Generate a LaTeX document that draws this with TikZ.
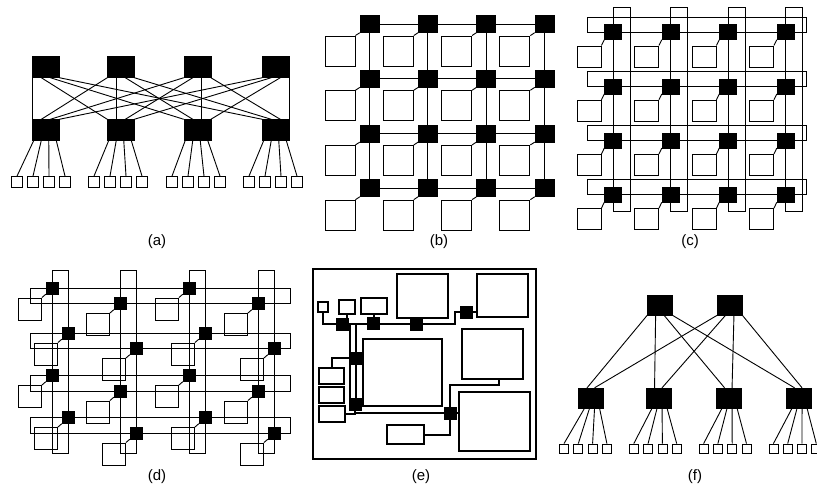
\documentclass[tikz,border=0pt]{standalone}
\usepackage{fontspec}
\setmainfont{Liberation Sans}
\usetikzlibrary{calc}

\tikzset{
  sw/.style   ={fill=black, draw=black, inner sep=0pt},
  core/.style ={draw=black, line width=0.9pt, inner sep=0pt},
  leaf/.style ={draw=black, fill=white, line width=0.8pt, inner sep=0pt, minimum size=11pt},
  wire/.style ={line width=0.9pt},
  bus/.style  ={line width=2pt},
  blk/.style  ={draw=black, line width=2pt, inner sep=0pt},
  tag/.style  ={font=\fontsize{15}{18}\selectfont}
}

\begin{document}
\begin{tikzpicture}[x=1pt, y=-1pt]
  \useasboundingbox (0,0) rectangle (817,493);

  % (a) two-level tree, full bipartite between levels
  \foreach \i/\xa in {1/46,2/121,3/197.5,4/276}{
    \node[sw, minimum width=27pt, minimum height=21pt] (ta\i) at (\xa,67) {};
    \node[sw, minimum width=27pt, minimum height=21pt] (ma\i) at (\xa,130) {};
  }
  \foreach \i in {1,...,4}
    \foreach \j in {1,...,4}
      \draw[wire] ($(ta\i.south west)+({9*(\j-1)},0)$) -- ($(ma\j.north west)+({9*(\i-1)},0)$);
  \foreach \g/\gx in {1/17,2/94,3/172,4/249}
    \foreach \k in {1,...,4}{
      \node[leaf] (la\g\k) at ({\gx+16*(\k-1)},182) {};
      \draw[wire] ($(ma\g.south west)+({1.35+7.56*(\k-1)},0)$) -- (la\g\k.north);
    }
  \node[tag] (capa) at (157,242) {(a)};

  % (b) mesh
  \foreach \r in {1,...,4}
    \foreach \c in {1,...,4}{
      \node[sw, minimum width=19pt, minimum height=17pt] (sb\r\c) at ({369.5+58.3*(\c-1)},{24+54.7*(\r-1)}) {};
      \node[core, minimum size=30pt] (cb\r\c) at ($(sb\r\c)+(-29.5,27)$) {};
      \draw[wire] (cb\r\c.north east) -- (sb\r\c.south west);
    }
  \foreach \n in {1,...,4}{
    \draw[wire] (sb\n1) -- (sb\n4);
    \draw[wire] (sb1\n) -- (sb4\n);
  }
  \node[tag] (capb) at (439,242) {(b)};

  % (c) torus
  \foreach \r in {1,...,4}
    \foreach \c in {1,...,4}{
      \node[sw, minimum width=17pt, minimum height=15pt] (sc\r\c) at ({613+57.5*(\c-1)},{32+54.2*(\r-1)}) {};
      \node[core, minimum width=24pt, minimum height=21pt] (cc\r\c) at ($(sc\r\c)+(-24,24.5)$) {};
      \draw[wire] (cc\r\c.north east) -- (sc\r\c.south west);
    }
  \foreach \n in {1,...,4}{
    \draw[wire] ($(sc\n1)+(-26,-15)$) rectangle ($(sc\n4)+(20.5,0)$);
    \draw[wire] ($(sc1\n)+(0,-25)$) rectangle ($(sc4\n)+(17,16.5)$);
  }
  \node[tag] (capc) at (690,242) {(c)};

  % (d) folded torus
  \foreach \r/\yb in {1/288,2/333,3/375.5,4/417.5}
    \foreach \c/\xb in {1/52,2/120,3/189,4/258}{
      \pgfmathsetmacro\sx{\xb+16*(1-mod(\r,2))}
      \pgfmathsetmacro\sy{\yb+15.5*(1-mod(\c,2))}
      \node[sw, minimum size=12pt] (sd\r\c) at (\sx,\sy) {};
      \node[core, minimum width=23pt, minimum height=22pt] (cd\r\c) at ($(sd\r\c)+(-22,21)$) {};
      \draw[wire] (cd\r\c.north east) -- (sd\r\c.south west);
    }
  \foreach \n in {1,...,4}{
    \draw[wire] (30,0 |- sd\n1) rectangle (290,0 |- sd\n2);
    \draw[wire] (sd1\n |- 0,270) rectangle (sd2\n |- 0,453);
  }
  \node[tag] (capd) at (157,477) {(d)};

  % (e) irregular chip floorplan
  \draw[line width=2.6pt] (313,269) rectangle (536,459);
  \node[blk, minimum width=10pt, minimum height=10pt] (ea) at (323,307) {};
  \node[blk, minimum width=16pt, minimum height=14pt] (eb) at (347,307) {};
  \node[blk, minimum width=26pt, minimum height=16pt] (ec) at (374,306) {};
  \node[blk, minimum width=51pt, minimum height=44pt] (ed) at (422.5,296) {};
  \node[blk, minimum width=51pt, minimum height=43pt] (ee) at (502.5,295.5) {};
  \node[blk, minimum width=79pt, minimum height=67pt] (ef) at (402.5,372.5) {};
  \node[blk, minimum width=61pt, minimum height=50pt] (eg) at (492.5,354) {};
  \node[blk, minimum width=71pt, minimum height=59pt] (eh) at (494.5,421.5) {};
  \node[blk, minimum width=25pt, minimum height=16pt] (ei1) at (331.5,376) {};
  \node[blk, minimum width=25pt, minimum height=16pt] (ei2) at (331.5,395) {};
  \node[blk, minimum width=26pt, minimum height=16pt] (ei3) at (332,414) {};
  \node[blk, minimum width=37pt, minimum height=19pt] (ej) at (405.5,434.5) {};
  % routers
  \foreach \n/\ex/\ey in {1/342/324,2/373/323,3/416/324,4/466/312,5/355/358,6/355/404,7/450/413}
    \node[sw, minimum size=12pt] (es\n) at (\ex,\ey) {};
  % links
  \draw[bus] (ea.south) |- (es1);
  \draw[bus] (eb.south) -- (eb.south |- es1.north);
  \draw[bus] (ec.south) -- (ec.south |- es2.north);
  \draw[bus] (es1) -- (es3) -- ++(39,0) |- (es4);
  \draw[bus] (ed.south -| es3) -- (es3);
  \draw[bus] (es4) -- (ee.west |- es4);
  \draw[bus] (350,324) -- (350,404);
  \draw[bus] (356,323) -- (356,404);
  \draw[bus] (es5) -| (ei1.north);
  \draw[bus] (ei3.east) -| (es6);
  \draw[bus] (es6) |- (es7);
  \draw[bus] (es7) |- (499,385) -- (499,379);
  \draw[bus] (es7) |- (ej.east);
  \draw[bus] (es7) -- (eh.west |- es7);
  \node[tag] (cape) at (421,477) {(e)};

  % (f) two-level tree, two roots
  \foreach \i/\xt in {1/660,2/730}
    \node[sw, minimum width=25pt, minimum height=20pt] (tf\i) at (\xt,305) {};
  \foreach \j/\xb in {1/591,2/658.5,3/728.5,4/798.5}
    \node[sw, minimum width=25pt, minimum height=20pt] (bf\j) at (\xb,398) {};
  \foreach \i in {1,2}
    \foreach \j in {1,...,4}
      \draw[wire] ($(tf\i.south west)+({8.33*(\j-1)},0)$) -- ($(bf\j.north west)+({8.75+7.5*(\i-1)},0)$);
  \foreach \g in {1,...,4}
    \foreach \k in {1,...,4}{
      \node[leaf, minimum size=9pt] (lf\g\k) at ({564+69.8*(\g-1)+14.3*(\k-1)},448.5) {};
      \draw[wire] ($(bf\g.south west)+({6.25+5*(\k-1)},0)$) -- (lf\g\k.north);
    }
  \node[tag] (capf) at (695,477) {(f)};
\end{tikzpicture}
\end{document}
